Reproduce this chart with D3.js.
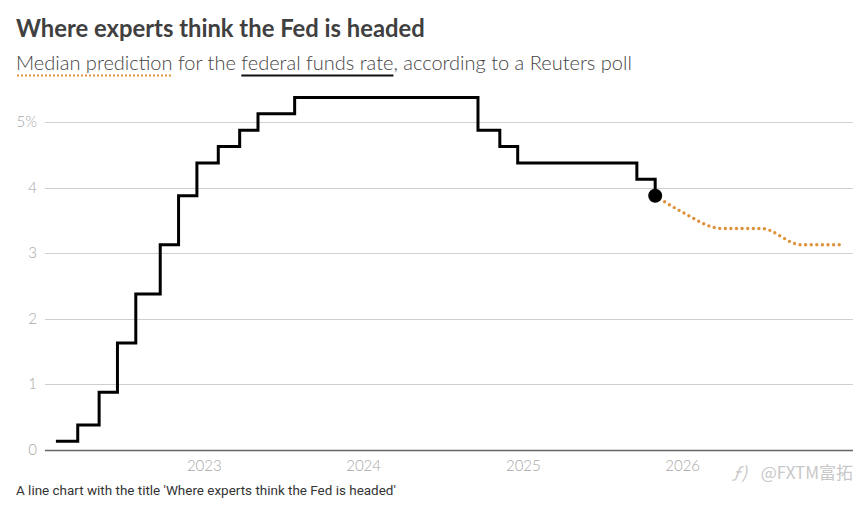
<!DOCTYPE html>
<html>
<head>
<meta charset="utf-8">
<script src="https://cdn.jsdelivr.net/npm/d3@7"></script>
<style>
  body { margin: 0; background: #fff; }
  svg text { font-family: Lato, Roboto, sans-serif; }
  .title { font-weight: 700; fill: #404040; }
  .subtitle { font-weight: 300; fill: #444; }
  .tick-label { fill: #a6a6a6; font-weight: 300; }
  .footer { fill: #333; font-family: Roboto, sans-serif; }
  .watermark { fill: #c8c8c8; font-family: "Noto Sans CJK SC", sans-serif; }
</style>
</head>
<body>
<div id="wrapper"></div>
<script>
// fed funds rate (midpoint of target range), effective dates of each move
const stepDates = ["2022-01-26", "2022-03-17", "2022-05-05", "2022-06-16", "2022-07-28",
  "2022-09-22", "2022-11-03", "2022-12-15", "2023-02-02", "2023-03-23", "2023-05-04",
  "2023-07-27", "2024-09-19", "2024-11-08", "2024-12-19", "2025-09-18", "2025-10-30"]
const stepRates = [0.125, 0.375, 0.875, 1.625, 2.375, 3.125, 3.875, 4.375, 4.625, 4.875,
  5.125, 5.375, 4.875, 4.625, 4.375, 4.125, 3.875]
// median Reuters poll prediction
const forecastDates = ["2025-10-30", "2025-12-31", "2026-03-31", "2026-06-30", "2026-09-30", "2026-12-31"]
const forecastRates = [3.875, 3.625, 3.375, 3.375, 3.125, 3.125]
// axis ticks
const yTicks = [0, 1, 2, 3, 4, 5]
const xTicks = ["2023-01-01", "2024-01-01", "2025-01-01", "2026-01-01"]

function drawChart() {
  const parse = d3.timeParse("%Y-%m-%d")
  const dimensions = { width: 864, height: 510 }

  const history = stepDates.map((d, i) => ({ date: parse(d), rate: stepRates[i] }))
  const forecast = forecastDates.map((d, i) => ({ date: parse(d), rate: forecastRates[i] }))

  const wrapper = d3.select("#wrapper").append("svg")
    .attr("width", dimensions.width)
    .attr("height", dimensions.height)

  // scales
  const xScale = d3.scaleTime()
    .domain([parse("2022-01-01"), parse("2027-01-01")])
    .range([45, 842])
  const yScale = d3.scaleLinear()
    .domain([0, 5])
    .range([449.5, 122])
  const gridLeft = 45
  const gridRight = 853

  // fit a text element to a width by rescaling its font size
  const fitText = (sel, size, width) => {
    sel.style("font-size", size + "px")
    const len = sel.node().getComputedTextLength()
    sel.style("font-size", (size * width / len) + "px")
  }

  // title + subtitle
  const title = wrapper.append("text")
    .attr("class", "title")
    .attr("x", 16).attr("y", 37)
    .text("Where experts think the Fed is headed")
  fitText(title, 22, 409)

  const subtitle = wrapper.append("text")
    .attr("class", "subtitle")
    .attr("x", 16).attr("y", 69.5)
  const subParts = ["Median prediction", " for the ", "federal funds rate", ", according to a Reuters poll"]
  subtitle.selectAll("tspan").data(subParts).join("tspan").text(d => d)
  fitText(subtitle, 18, 616)
  const subNode = subtitle.node()
  const partStart = i => subParts.slice(0, i).join("").length
  const medW = subNode.getSubStringLength(0, subParts[0].length)
  const fedX = subNode.getSubStringLength(0, partStart(2))
  const fedW = subNode.getSubStringLength(partStart(2), subParts[2].length)

  wrapper.append("line")
    .attr("x1", 17).attr("x2", 16 + medW)
    .attr("y1", 75.5).attr("y2", 75.5)
    .attr("stroke", "#e0913a")
    .attr("stroke-width", 2.2)
    .attr("stroke-dasharray", "2 2")
  wrapper.append("line")
    .attr("x1", 16 + fedX).attr("x2", 16 + fedX + fedW)
    .attr("y1", 75.5).attr("y2", 75.5)
    .attr("stroke", "#111")
    .attr("stroke-width", 2)

  // gridlines + y labels
  const yAxis = wrapper.append("g")
  yAxis.selectAll("line")
    .data(yTicks)
    .join("line")
    .attr("x1", gridLeft).attr("x2", gridRight)
    .attr("y1", d => Math.round(yScale(d)) + 0.5)
    .attr("y2", d => Math.round(yScale(d)) + 0.5)
    .attr("stroke", d => d === 0 ? "#666" : "#cfcfcf")
    .attr("stroke-width", d => d === 0 ? 1.5 : 1)
  yAxis.selectAll("text")
    .data(yTicks)
    .join("text")
    .attr("class", "tick-label")
    .attr("x", 37)
    .attr("y", d => yScale(d))
    .attr("dy", "0.35em")
    .attr("text-anchor", "end")
    .style("font-size", "15px")
    .text(d => d === 5 ? "5%" : d)

  // x labels
  wrapper.append("g").selectAll("text")
    .data(xTicks.map(parse))
    .join("text")
    .attr("class", "tick-label")
    .attr("x", d => xScale(d))
    .attr("y", 471)
    .attr("text-anchor", "middle")
    .style("font-size", "15px")
    .text(d3.timeFormat("%Y"))

  // forecast dotted line
  const forecastLine = d3.line()
    .x(d => xScale(d.date))
    .y(d => yScale(d.rate))
    .curve(d3.curveMonotoneX)
  wrapper.append("path")
    .attr("d", forecastLine(forecast))
    .attr("fill", "none")
    .attr("stroke", "#e0913a")
    .attr("stroke-width", 3.4)
    .attr("stroke-linecap", "round")
    .attr("stroke-dasharray", "0 5.6")

  // actual rate step line
  const stepLine = d3.line()
    .x(d => xScale(d.date))
    .y(d => yScale(d.rate))
    .curve(d3.curveStepAfter)
  wrapper.append("path")
    .attr("d", stepLine(history))
    .attr("fill", "none")
    .attr("stroke", "#000")
    .attr("stroke-width", 3)
    .attr("stroke-linejoin", "miter")

  // latest point
  const last = history[history.length - 1]
  wrapper.append("circle")
    .attr("cx", xScale(last.date))
    .attr("cy", yScale(last.rate))
    .attr("r", 7)
    .attr("fill", "#000")

  // footer
  const footer = wrapper.append("text")
    .attr("class", "footer")
    .attr("x", 16).attr("y", 495)
    .text("A line chart with the title 'Where experts think the Fed is headed'")
  fitText(footer, 12, 380)

  // watermark
  wrapper.append("text")
    .attr("class", "watermark")
    .attr("x", 732).attr("y", 479)
    .style("font-size", "17px")
    .style("font-style", "italic")
    .text("ƒ)")
  wrapper.append("text")
    .attr("class", "watermark")
    .attr("x", 853).attr("y", 479)
    .attr("text-anchor", "end")
    .style("font-size", "17px")
    .text("@FXTM富拓")
}
drawChart()
</script>
</body>
</html>
